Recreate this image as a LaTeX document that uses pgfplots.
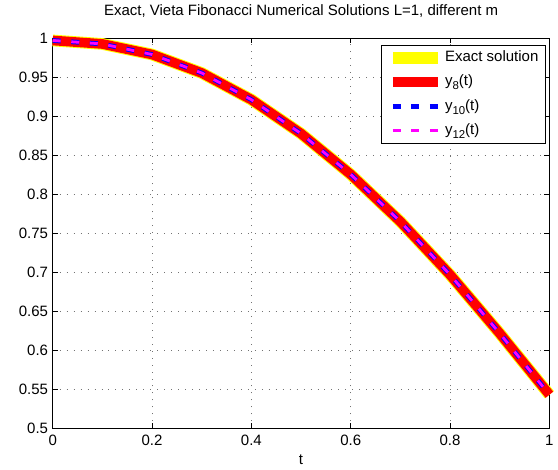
\documentclass[border=0pt]{standalone}
\usepackage{fontspec}
\setmainfont{Liberation Sans}
\usepackage{pgfplots}
\pgfplotsset{compat=1.18}
\definecolor{mlyellow}{RGB}{255,255,0}
\definecolor{mlred}{RGB}{255,0,0}
\definecolor{mlblue}{RGB}{0,0,255}
\definecolor{mlmag}{RGB}{255,0,255}
\newcommand{\fs}{\fontsize{11.3}{13}\selectfont}
\newcommand{\sub}[1]{\raisebox{-3.2pt}{\fontsize{8.6}{9}\selectfont #1}}

\begin{document}
\begin{tikzpicture}
\begin{axis}[
    scale only axis,
    width=374.25pt,
    height=294pt,
    xmin=0, xmax=1,
    ymin=0.5, ymax=1,
    xtick={0,0.2,0.4,0.6,0.8,1},
    ytick={0.5,0.55,0.6,0.65,0.7,0.75,0.8,0.85,0.9,0.95,1},
    /pgf/number format/assume math mode=true,
    tick label style={font=\fs},
    xticklabel style={yshift=-1.5pt},
    tick align=inside,
    major tick length=4pt,
    tick style={black, line width=0.6pt},
    axis line style={black, line width=0.8pt},
    grid=major,
    major grid style={black!55, line width=0.7pt, dash pattern=on 0.75pt off 4.5pt},
    clip=false,
    title={Exact, Vieta Fibonacci Numerical Solutions L=1, different m},
    title style={font=\fs, at={(0.5,1)}, anchor=base, yshift=11.2pt},
    xlabel={t},
    xlabel style={font=\fs, at={(0.5,0)}, anchor=base, yshift=-27.5pt},
    legend cell align=left,
    legend image code/.code={\draw[#1] (0pt,0pt) -- (34pt,0pt);},
    legend style={at={(0.992,0.982)}, anchor=north east, draw=black,
        line width=0.6pt, fill=white, font=\fs,
        inner xsep=4pt, inner ysep=2pt, row sep=3.8pt,
        nodes={inner sep=1pt, text height=9pt, text depth=3.5pt}},
]
\addplot[mlyellow, line width=8.8pt] coordinates {
    (0,0.997) (0.1,0.9925) (0.2,0.979) (0.3,0.9553) (0.4,0.9211) (0.5,0.8776)
    (0.6,0.8253) (0.7,0.7648) (0.8,0.6967) (0.9,0.6216) (1,0.543)
};
\addlegendentry{Exact solution}
\addplot[mlred, line width=7.3pt] coordinates {
    (0,0.997) (0.1,0.9925) (0.2,0.979) (0.3,0.9553) (0.4,0.9211) (0.5,0.8776)
    (0.6,0.8253) (0.7,0.7648) (0.8,0.6967) (0.9,0.6216) (1,0.543)
};
\addlegendentry{y\sub{8}(t)}
\addplot[mlblue, line width=3.6pt, dash pattern=on 6pt off 8pt] coordinates {
    (0,0.997) (0.1,0.9925) (0.2,0.979) (0.3,0.9553) (0.4,0.9211) (0.5,0.8776)
    (0.6,0.8253) (0.7,0.7648) (0.8,0.6967) (0.9,0.6216) (1,0.543)
};
\addlegendentry{y\sub{10}(t)}
\addplot[mlmag, line width=2.1pt, dash pattern=on 6pt off 8pt] coordinates {
    (0,0.997) (0.1,0.9925) (0.2,0.979) (0.3,0.9553) (0.4,0.9211) (0.5,0.8776)
    (0.6,0.8253) (0.7,0.7648) (0.8,0.6967) (0.9,0.6216) (1,0.543)
};
\addlegendentry{y\sub{12}(t)}
\coordinate (bbl) at (rel axis cs:-0.1062,-0.102);
\coordinate (btr) at (rel axis cs:1.012,1.0842);
\end{axis}
\path (bbl) rectangle (btr);
\end{tikzpicture}
\end{document}
